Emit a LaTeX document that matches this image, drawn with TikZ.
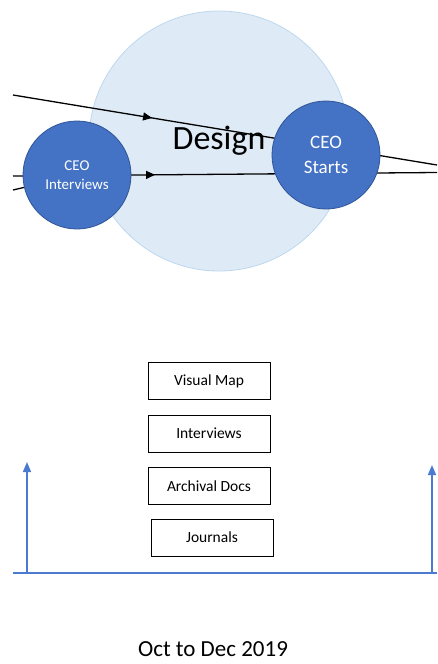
\documentclass[tikz,border=0pt]{standalone}
\usepackage{fontspec}
\setmainfont{Carlito}
\usepackage{tikz}
\usetikzlibrary{arrows.meta,positioning,backgrounds,decorations.markings}
\definecolor{designfill}{HTML}{DEEBF7}
\definecolor{designdraw}{HTML}{BDD7EE}
\definecolor{evtblue}{HTML}{4472C4}
\definecolor{evtdraw}{HTML}{2F5597}
\definecolor{tlblue}{HTML}{4A7BD0}

\begin{document}
\begin{tikzpicture}[
    x=1pt, y=-1pt,
    phase/.style={circle, draw=designdraw, fill=designfill, line width=0.8pt, minimum size=260pt, inner sep=0pt, font=\fontsize{34}{40}\selectfont},
    event/.style={circle, draw=evtdraw, fill=evtblue, text=white, line width=0.8pt, minimum size=108pt, inner sep=0pt, align=center},
    source/.style={draw=black, line width=0.8pt, minimum width=122pt, minimum height=37pt, inner sep=0pt, font=\fontsize{15.5}{18}\selectfont},
    flow/.style={black, line width=1.3pt},
    midarrow/.style={postaction={decorate, decoration={markings, mark=at position #1 with {\arrow{Triangle[width=8pt,length=9pt]}}}}},
    timeline/.style={tlblue, line width=1.6pt},
    tick/.style={-{Triangle[width=8pt,length=10pt]}, tlblue, line width=1.6pt}
]
    \useasboundingbox (0,0) rectangle (437,664);

    % Events (on top of the flows)
    \node[event, font=\fontsize{15}{19}\selectfont] (ceoint) at (77,175) {CEO\\Interviews};
    \node[event, font=\fontsize{19}{25}\selectfont] (ceostart) at (326,155) {CEO\\Starts};

    % free ends at the picture edges
    \coordinate (topin) at (13,95);
    \coordinate (topout) at (437,165);
    \coordinate (midin) at (13,176);
    \coordinate (midout) at (437,172.5);
    \coordinate (lowin) at (13,190);

    % Design phase and flows (behind the events)
    \begin{scope}[on background layer]
        \node[phase] (design) at (219,141) {Design};
        \draw[flow, midarrow=0.328] (topin) -- (topout);
        \draw[flow, midarrow=0.335] (midin) -- (midout);
        \draw[flow] (lowin) -- (ceoint);
    \end{scope}

    % Data sources
    \node[source] (visual) at (209,381) {Visual Map};
    \node[source] (interviews) at (209,433.5) {Interviews};
    \node[source] (archival) at (209,486) {Archival Docs};
    \node[source] (journals) at (212,537.5) {Journals};

    % Timeline
    \coordinate (tlstart) at (13,573);
    \coordinate (tlend) at (437,573);
    \coordinate (startbase) at (27,573);
    \coordinate (starttop) at (27,462);
    \coordinate (endbase) at (432,573);
    \coordinate (endtop) at (432,465);
    \draw[timeline] (tlstart) -- (tlend);
    \draw[tick] (startbase) -- (starttop);
    \draw[tick] (endbase) -- (endtop);

    \node[font=\fontsize{23}{26}\selectfont, inner sep=0pt, anchor=base] (period) at (213,656) {Oct to Dec 2019};
\end{tikzpicture}
\end{document}
